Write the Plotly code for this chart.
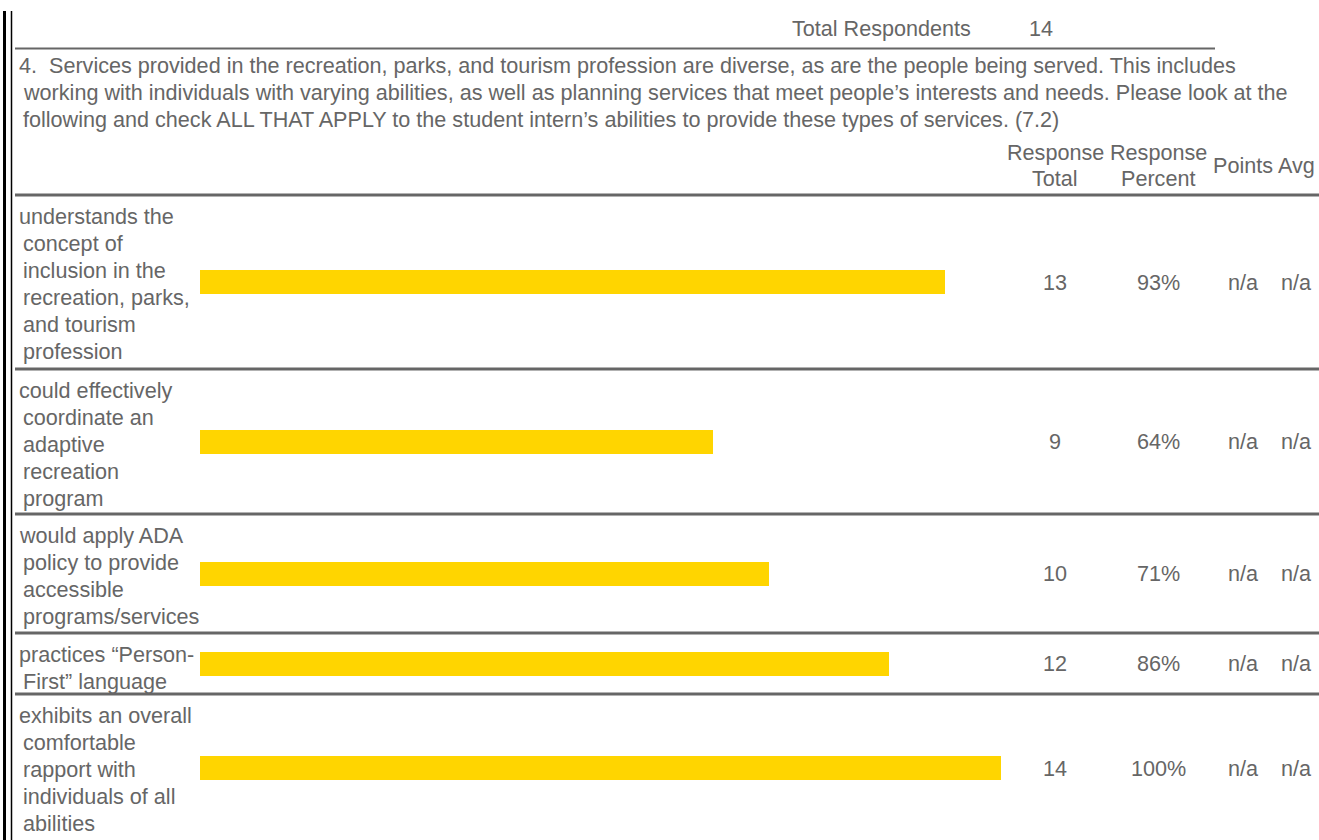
import plotly.graph_objects as go

# ---- data ----
categories = [
    "understands the concept of inclusion in the recreation, parks, and tourism profession",
    "could effectively coordinate an adaptive recreation program",
    "would apply ADA policy to provide accessible programs/services",
    "practices “Person-First” language",
    "exhibits an overall comfortable rapport with individuals of all abilities",
]
category_lines = [
    ["understands the", "concept of", "inclusion in the", "recreation, parks,", "and tourism", "profession"],
    ["could effectively", "coordinate an", "adaptive", "recreation", "program"],
    ["would apply ADA", "policy to provide", "accessible", "programs/services"],
    ["practices “Person-", "First” language"],
    ["exhibits an overall", "comfortable", "rapport with", "individuals of all", "abilities"],
]
response_total = [13, 9, 10, 12, 14]
response_percent = [93, 64, 71, 86, 100]
points = ["n/a"] * 5
avg = ["n/a"] * 5
total_respondents = 14
question = [
    "4.  Services provided in the recreation, parks, and tourism profession are diverse, as are the people being served. This includes",
    "working with individuals with varying abilities, as well as planning services that meet people’s interests and needs. Please look at the",
    "following and check ALL THAT APPLY to the student intern’s abilities to provide these types of services. (7.2)",
]

# ---- layout constants (pixels) ----
W, H = 1319, 840
FONT = "Liberation Sans, Arial, sans-serif"
FS = 21.6
GRAY = "#666666"
BAR = "#FFD500"
row_bounds = [195, 369, 514, 633, 694, 842]
row_centers = [(row_bounds[i] + row_bounds[i + 1]) / 2 for i in range(len(categories))]
LINE = 27
BAR_X0, BAR_X1 = 200, 1001

def px(x):
    return x / W

fig = go.Figure()
fig.add_trace(go.Bar(
    x=response_percent, y=row_centers, orientation="h",
    width=24, marker=dict(color=BAR, line=dict(width=0)),
    hoverinfo="skip", showlegend=False,
))

ann = []
def txt(x, y, s, xa="left", ya="middle"):
    ann.append(dict(x=px(x), y=y, xref="paper", yref="y", text=s, showarrow=False,
                    xanchor=xa, yanchor=ya, font=dict(family=FONT, size=FS, color=GRAY)))

txt(790, 28, "Total Respondents")
txt(1041, 28, str(total_respondents), xa="center")
for i, line in enumerate(question):
    txt(17 if i == 0 else 21, 65 + i * LINE, line)
txt(1055, 152, "Response", xa="center")
txt(1055, 178, "Total", xa="center")
txt(1158, 152, "Response", xa="center")
txt(1158, 178, "Percent", xa="center")
txt(1243, 165, "Points", xa="center")
txt(1296, 165, "Avg", xa="center")

for i, lines in enumerate(category_lines):
    top = row_bounds[i]
    for j, line in enumerate(lines):
        txt(17 if j == 0 else 21, top + 21 + j * LINE, line)
    c = row_centers[i]
    txt(1055, c, str(response_total[i]), xa="center")
    txt(1158, c, f"{response_percent[i]}%", xa="center")
    txt(1243, c, points[i], xa="center")
    txt(1296, c, avg[i], xa="center")

shapes = []
def hline(x0, x1, y, w, color=GRAY):
    shapes.append(dict(type="line", xref="paper", yref="y", x0=px(x0), x1=px(x1), y0=y, y1=y,
                       line=dict(color=color, width=w)))
def vline(x, y0, y1, w, color="black"):
    shapes.append(dict(type="line", xref="paper", yref="y", x0=px(x), x1=px(x), y0=y0, y1=y1,
                       line=dict(color=color, width=w)))

vline(4.5, 11, 840, 3)
vline(11.5, 11, 840, 1.5)
hline(15, 1215, 48.5, 2)
for b in row_bounds[:-1]:
    hline(15, W, b, 3)

fig.update_layout(
    width=W, height=H, margin=dict(l=0, r=0, t=0, b=0),
    paper_bgcolor="white", plot_bgcolor="white",
    xaxis=dict(domain=[BAR_X0 / W, BAR_X1 / W], range=[0, 100], visible=False, fixedrange=True),
    yaxis=dict(domain=[0, 1], range=[H, 0], visible=False, fixedrange=True),
    annotations=ann, shapes=shapes, bargap=0,
)
fig.write_html(
    "out.html",
    config={"displayModeBar": False},
    post_script="document.body.style.margin='0px';document.body.style.overflow='hidden';",
)
